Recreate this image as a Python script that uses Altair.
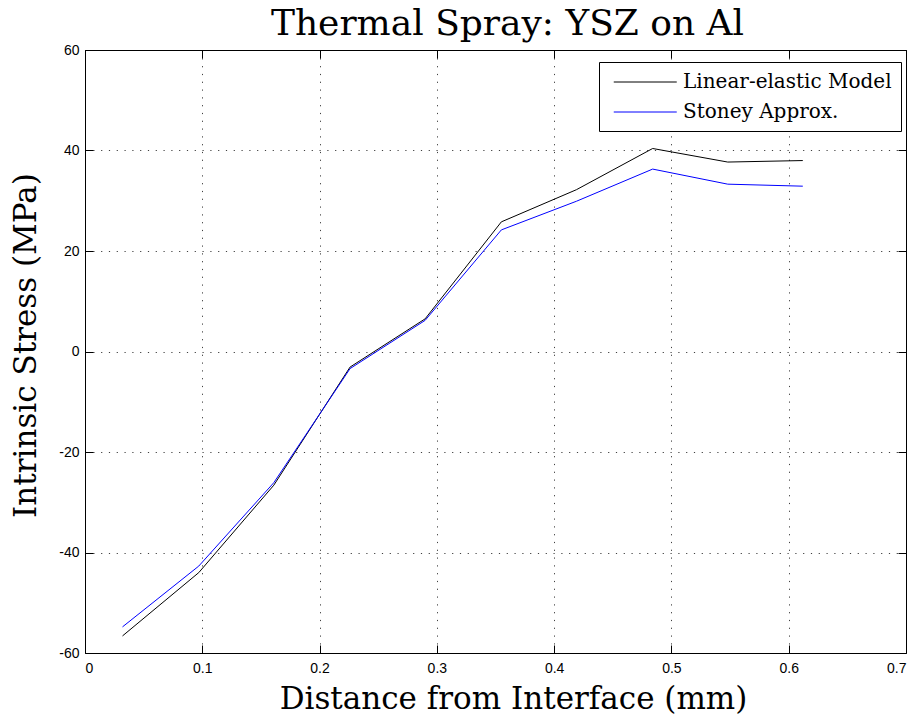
import altair as alt
import pandas as pd

distance = [0.032, 0.097, 0.161, 0.226, 0.290, 0.355, 0.419, 0.484, 0.548, 0.612]
linear_elastic = [-56.6, -44.0, -26.6, -3.1, 6.5, 25.8, 32.2, 40.4, 37.7, 38.0]
stoney = [-54.8, -42.7, -26.1, -3.4, 6.2, 24.2, 29.9, 36.3, 33.3, 32.9]
series_names = ["Linear-elastic Model", "Stoney Approx."]
series_colors = ["#000000", "#0000ff"]
x_ticks = [0, 0.1, 0.2, 0.3, 0.4, 0.5, 0.6, 0.7]
y_ticks = [-60, -40, -20, 0, 20, 40, 60]

rows = []
for name, vals in zip(series_names, [linear_elastic, stoney]):
    for xv, yv in zip(distance, vals):
        rows.append({"x": xv, "y": yv, "series": name})
df = pd.DataFrame(rows)

SERIF = "DejaVu Serif"
SANS = "Liberation Sans"
TICK = 8

xscale = alt.Scale(domain=[0, 0.7], nice=False, zero=False)
yscale = alt.Scale(domain=[-60, 60], nice=False, zero=False)

main = alt.Chart(df).mark_line(strokeWidth=1).encode(
    x=alt.X("x:Q", scale=xscale, title="Distance from Interface (mm)",
            axis=alt.Axis(values=x_ticks, format="~g", offset=-TICK, tickSize=TICK,
                          domain=False, labelPadding=TICK, grid=True,
                          titlePadding=9, titleX=428)),
    y=alt.Y("y:Q", scale=yscale, title="Intrinsic Stress (MPa)",
            axis=alt.Axis(values=y_ticks, offset=-TICK, tickSize=TICK, domain=False,
                          labelPadding=6, grid=True, titlePadding=16, titleY=295,
                          labelExpr="replace(datum.label, '\u2212', '-')")),
    color=alt.Color("series:N", scale=alt.Scale(domain=series_names, range=series_colors),
                    legend=alt.Legend(title=None, orient="none", legendX=514, legendY=12,
                                      strokeColor="black", fillColor="white", padding=9,
                                      symbolType="M-0.5,0H5.5", symbolSize=441,
                                      symbolStrokeWidth=1, labelFont=SERIF,
                                      labelFontSize=20, labelColor="black",
                                      labelOffset=53, rowPadding=9, labelLimit=400)),
    order=alt.Order("x:Q"),
)

mirror = alt.Chart(df).mark_line(strokeOpacity=0).encode(
    x=alt.X("x:Q", scale=xscale, title=None,
            axis=alt.Axis(orient="top", values=x_ticks, labels=False, offset=-TICK,
                          tickSize=TICK, domain=False, grid=False)),
    y=alt.Y("y:Q", scale=yscale, title=None,
            axis=alt.Axis(orient="right", values=y_ticks, labels=False, offset=-TICK,
                          tickSize=TICK, domain=False, grid=False)),
    detail="series:N",
)

chart = alt.layer(main, mirror).resolve_axis(x="independent", y="independent").properties(
    width=821, height=603,
    title=alt.Title("Thermal Spray: YSZ on Al", font=SERIF, fontSize=36,
                    fontWeight="normal", color="black", offset=6, dy=6, dx=12),
    autosize=alt.AutoSizeParams(type="none"),
    padding={"left": 85, "top": 50, "right": 16, "bottom": 65},
).configure_view(stroke="black", strokeWidth=1).configure_axis(
    labelFont=SANS, labelFontSize=14, labelColor="black",
    titleFont=SERIF, titleFontSize=31, titleFontWeight="normal", titleColor="black",
    tickColor="black", tickWidth=1,
    gridColor="black", gridOpacity=0.75, gridDash=[1.2, 6.6], gridWidth=1,
)

chart.save("out.html", embed_options={"renderer": "svg", "actions": False})
